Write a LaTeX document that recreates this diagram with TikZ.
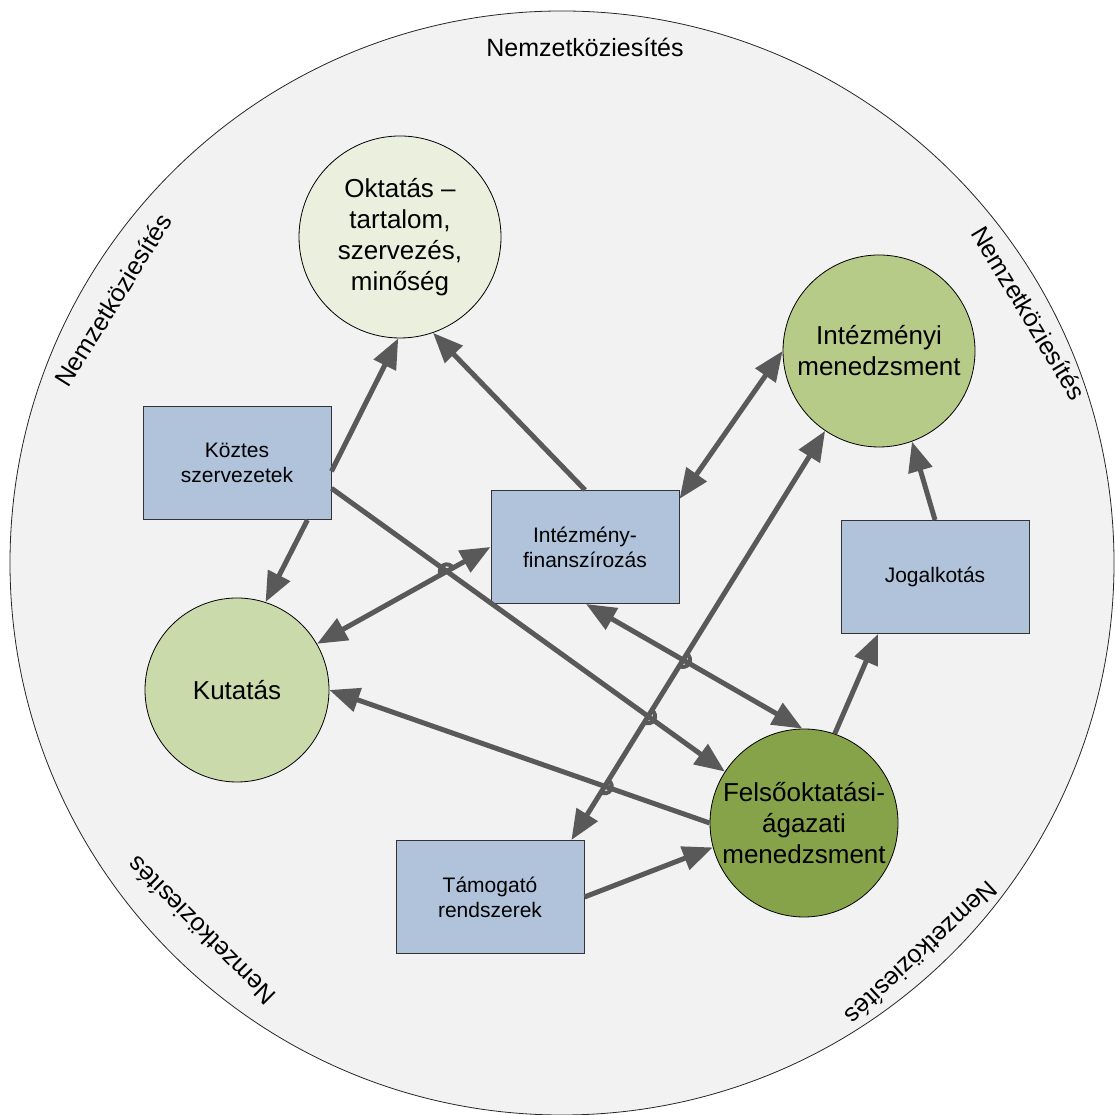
\documentclass[tikz,border=0pt]{standalone}
\usepackage{fontspec}
\setmainfont{Liberation Sans}
\usetikzlibrary{arrows.meta,positioning,intersections}
\definecolor{ringgray}{RGB}{242,242,242}
\definecolor{teachgreen}{RGB}{235,240,222}
\definecolor{instgreen}{RGB}{183,203,136}
\definecolor{researchgreen}{RGB}{203,218,170}
\definecolor{sectorgreen}{RGB}{134,163,74}
\definecolor{boxblue}{RGB}{176,195,219}
\definecolor{arrowgray}{RGB}{89,89,89}

\begin{document}
\begin{tikzpicture}[
    x=1pt, y=1pt,
    % Node styles
    topic/.style={circle, draw=black, line width=0.8pt, inner sep=0pt, align=center, font=\fontsize{26}{31}\selectfont},
    support/.style={rectangle, draw=black!80, fill=boxblue, line width=1pt, minimum width=188pt, minimum height=113pt, align=center, font=\fontsize{21}{25}\selectfont},
    intl/.style={font=\fontsize{25}{30}\selectfont},
    arrow/.style={-{Triangle[length=30pt,width=24pt]}, line width=5pt, color=arrowgray},
    biarrow/.style={{Triangle[length=30pt,width=24pt]}-{Triangle[length=30pt,width=24pt]}, line width=5pt, color=arrowgray},
    hop/.style={line width=4pt, color=arrowgray}
]
\useasboundingbox (0,0) rectangle (1115,1115);

% Outer ring
\filldraw [fill=ringgray, draw=black!85, line width=0.8pt] (562,552) circle[radius=552];

% Labels round the ring
\node [intl] (intltop) at (585,1068) {Nemzetköziesítés};
\node [intl, rotate=58] (intlnw) at (113,815) {Nemzetköziesítés};
\node [intl, rotate=-59] (intlne) at (1029,802) {Nemzetköziesítés};
\node [intl, rotate=135] (intlsw) at (201,184) {Nemzetköziesítés};
\node [intl, rotate=-137] (intlse) at (922,162) {Nemzetköziesítés};

% Circles
\node [topic, fill=teachgreen, minimum size=202pt] (oktatas) at (400,878) {Oktatás –\\tartalom,\\szervezés,\\minőség};
\node [topic, fill=instgreen, minimum size=192pt] (intmen) at (879,764) {Intézményi\\menedzsment};
\node [topic, fill=researchgreen, minimum size=184pt] (kutatas) at (237,425) {Kutatás};
\node [topic, fill=sectorgreen, minimum size=188pt] (felso) at (804,292) {Felsőoktatási-\\ágazati\\menedzsment};

% Boxes
\node [support] (koztes) at (237,652) {Köztes\\szervezetek};
\node [support] (finansz) at (585,568) {Intézmény-\\finanszírozás};
\node [support] (jog) at (935,538) {Jogalkotás};
\node [support] (tamogato) at (490,218) {Támogató\\rendszerek};

% Connections from the intermediate bodies
\draw [arrow] (koztes.-5) -- (oktatas.-91);
\draw [arrow] (koztes.-39) -- (kutatas.72);
\draw [arrow, name path=kozfel] (koztes.-15) -- (felso.147);

% Institutional funding
\draw [arrow] (finansz.90) -- (oktatas.-71);
\draw [biarrow] (finansz.27) -- (intmen.180);
\draw [biarrow, name path=kutfin] (kutatas.30) -- (finansz.180);
\draw [biarrow, name path=finfel] (finansz.-89) -- (felso.91);

% Sector management
\draw [arrow, name path=felkut] (felso.180) -- (kutatas.0);
\draw [arrow] (felso.71) -- (jog.-135);
\draw [arrow] (jog.90) -- (intmen.-70);

% Support systems
\draw [biarrow, name path=tamint] (tamogato.35) -- (intmen.236);
\draw [arrow] (tamogato.0) -- (felso.195);

% Line hops at crossings
\path [name intersections={of=kutfin and kozfel, by=hopa}];
\path [name intersections={of=tamint and finfel, by=hopb}];
\path [name intersections={of=tamint and kozfel, by=hopc}];
\path [name intersections={of=tamint and felkut, by=hopd}];
\draw [hop] (hopa) ++(209:7) arc[start angle=209, end angle=29, radius=7];
\foreach \h in {hopb,hopc,hopd}
    \draw [hop] (\h) ++(238:7) arc[start angle=238, end angle=418, radius=7];

\end{tikzpicture}
\end{document}
